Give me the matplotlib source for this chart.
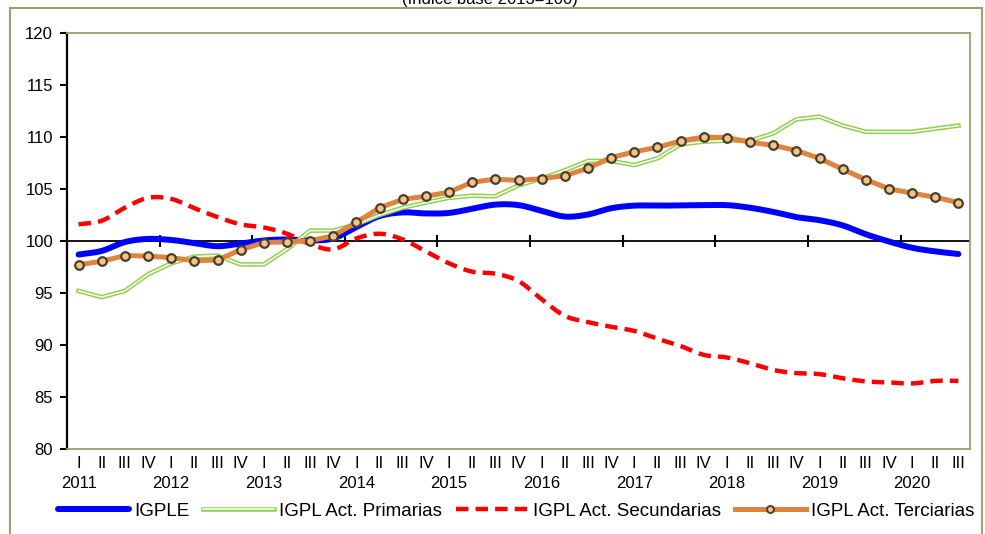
import numpy as np
import matplotlib
matplotlib.use("Agg")
import matplotlib.pyplot as plt
from matplotlib.lines import Line2D
from matplotlib.patches import Rectangle
from matplotlib.transforms import blended_transform_factory

plt.rcParams['font.family'] = ['Liberation Sans', 'DejaVu Sans']

years = ['2011', '2012', '2013', '2014', '2015', '2016', '2017', '2018', '2019', '2020']
quarters = ['I', 'II', 'III', 'IV']
n_periods = 39  # 2011 I .. 2020 III

igple = [98.7, 99.05, 99.9, 100.2, 100.1, 99.8, 99.5, 99.75, 100.05, 100.15,
         100.05, 100.25, 101.35, 102.4, 102.75, 102.65, 102.7, 103.1, 103.5, 103.45,
         102.9, 102.35, 102.55, 103.15, 103.4, 103.4, 103.42, 103.45, 103.45, 103.2,
         102.8, 102.3, 102.0, 101.5, 100.65, 99.95, 99.35, 99.0, 98.75]
primarias = [95.2, 94.6, 95.2, 96.8, 97.85, 98.5, 98.6, 97.75, 97.75, 99.2,
             101.0, 101.0, 101.6, 102.5, 103.2, 103.7, 104.15, 104.35, 104.3, 105.35,
             106.0, 106.8, 107.7, 107.7, 107.3, 107.95, 109.3, 109.55, 109.65, 109.65,
             110.35, 111.7, 111.95, 111.1, 110.5, 110.5, 110.5, 110.8, 111.1]
secundarias = [101.6, 101.95, 103.2, 104.15, 104.05, 103.15, 102.3, 101.6, 101.3, 100.7,
               99.7, 99.2, 100.25, 100.7, 100.15, 99.0, 97.85, 97.05, 96.85, 96.15,
               94.4, 92.8, 92.2, 91.75, 91.35, 90.6, 89.9, 89.05, 88.8, 88.25,
               87.6, 87.3, 87.2, 86.8, 86.5, 86.4, 86.3, 86.55, 86.55]
terciarias = [97.72, 98.05, 98.6, 98.55, 98.4, 98.1, 98.17, 99.16, 99.85, 99.92,
              100.02, 100.5, 101.8, 103.2, 104.0, 104.3, 104.7, 105.65, 105.95, 105.82,
              106.0, 106.28, 107.0, 108.02, 108.58, 109.0, 109.62, 110.0, 109.95, 109.5,
              109.2, 108.7, 107.95, 106.9, 105.9, 105.02, 104.6, 104.2, 103.7]

labels = ['IGPLE', 'IGPL Act. Primarias', 'IGPL Act. Secundarias', 'IGPL Act. Terciarias']
title = '(Índice base 2013=100)'


def smooth(x, y, k=16):
    """Catmull-Rom smoothing (like Excel's smoothed line)."""
    x = np.asarray(x, float)
    y = np.asarray(y, float)
    px = np.concatenate([[2 * x[0] - x[1]], x, [2 * x[-1] - x[-2]]])
    py = np.concatenate([[2 * y[0] - y[1]], y, [2 * y[-1] - y[-2]]])
    t = np.linspace(0, 1, k, endpoint=False)
    xs, ys = [], []
    for i in range(1, len(px) - 2):
        for arr, out in ((px, xs), (py, ys)):
            p0, p1, p2, p3 = arr[i - 1], arr[i], arr[i + 1], arr[i + 2]
            out.extend(0.5 * ((2 * p1) + (-p0 + p2) * t +
                              (2 * p0 - 5 * p1 + 4 * p2 - p3) * t ** 2 +
                              (-p0 + 3 * p1 - 3 * p2 + p3) * t ** 3))
    xs.append(x[-1])
    ys.append(y[-1])
    return np.array(xs), np.array(ys)


W, H = 985, 534
fig = plt.figure(figsize=(W / 100, H / 100), dpi=100)
ax = fig.add_axes([67 / W, 1 - 449 / H, (970 - 67) / W, (449 - 33) / H])

olive = '#A39D72'
c_blue = '#0000FF'
c_green = '#92D050'
c_red = '#FF0000'
c_orange = '#DE843F'

x = np.arange(n_periods)

# zero-line at 100 and year separators
ax.axhline(100, color='black', lw=1.3, zorder=1)
ax.vlines(np.arange(3.5, n_periods - 1, 4), 99.45, 100.55, color='black', lw=1.5, zorder=1)

xb, yb = smooth(x, igple)
ax.plot(xb, yb, color=c_blue, lw=4.3, solid_capstyle='round', zorder=2)

ax.plot(x, primarias, color=c_green, lw=3.3, zorder=3)
ax.plot(x, primarias, color='white', lw=1.1, zorder=3.1)

xr, yr = smooth(x, secundarias)
ax.plot(xr, yr, color=c_red, lw=3.2, dashes=(2.8, 1.6), zorder=4)

ax.plot(x, terciarias, color=c_orange, lw=3.6, marker='o', ms=6.2,
        mfc='#F3C48A', mec='#4B3F2C', mew=1.6, zorder=5)

ax.set_xlim(-0.5, n_periods - 0.5)
ax.set_ylim(80, 120)
ax.set_yticks(np.arange(80, 121, 5))
ax.tick_params(axis='y', direction='out', length=5, width=1.5, pad=5, labelsize=12)
ax.set_xticks([])
for s in ('top', 'right', 'bottom'):
    ax.spines[s].set_color(olive)
    ax.spines[s].set_linewidth(1.3)
ax.spines['left'].set_color('black')
ax.spines['left'].set_linewidth(1.6)

tr = blended_transform_factory(ax.transData, fig.transFigure)
for i in range(n_periods):
    ax.text(i, 1 - 464 / H, quarters[i % 4], transform=tr, ha='center', va='center',
            fontsize=12, clip_on=False)
for j, yname in enumerate(years):
    ax.text(4 * j, 1 - 483 / H, yname, transform=tr, ha='center', va='center',
            fontsize=12, clip_on=False)

# outer frame
fig.add_artist(Rectangle((10 / W, -0.05), (982 - 10) / W, 1.05 - 8 / H,
                         transform=fig.transFigure, fill=False, edgecolor=olive, lw=1.5))

fig.text(490 / W, 1 - 4 / H, title, ha='center', va='baseline', fontsize=12)

h_blue = Line2D([], [], color=c_blue, lw=4.3, solid_capstyle='round')
h_green = (Line2D([], [], color=c_green, lw=3.3), Line2D([], [], color='white', lw=1.1))
h_red = Line2D([], [], color=c_red, lw=3.2, dashes=(2.8, 1.6))
h_orange = Line2D([], [], color=c_orange, lw=3.6, marker='o', ms=5,
                  mfc='#F3C48A', mec='#4B3F2C', mew=1.4)
fig.legend([h_blue, h_green, h_red, h_orange], labels, loc='center',
           bbox_to_anchor=(516 / W, 1 - 511 / H), ncol=4, frameon=False,
           fontsize=13.5, handlelength=3.8, handletextpad=0.27, columnspacing=0.75,
           numpoints=1, borderpad=0, borderaxespad=0)

fig.savefig('out.png', dpi=100)
